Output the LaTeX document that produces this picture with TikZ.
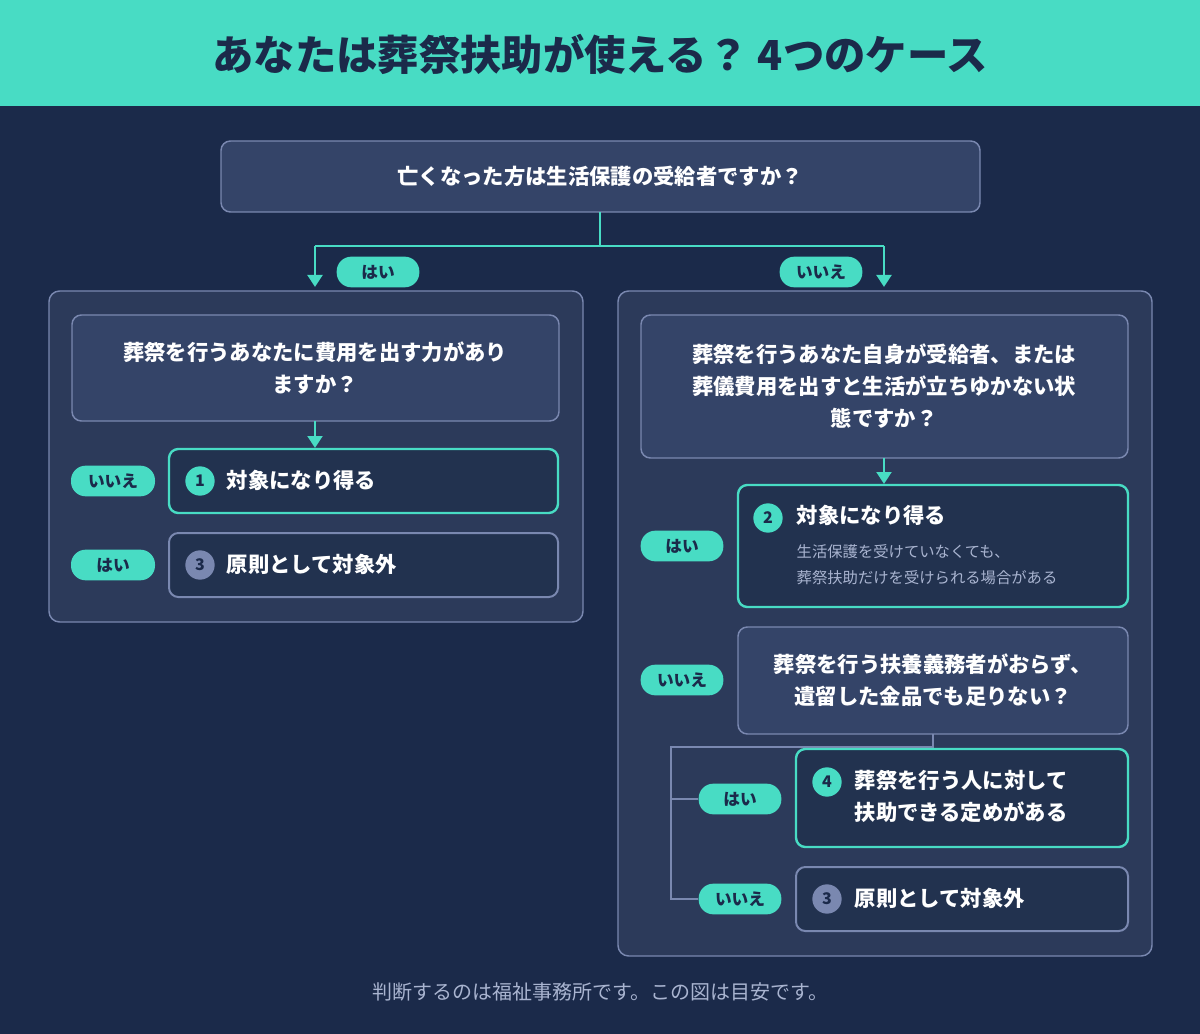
\documentclass[tikz,border=0pt]{standalone}
\usepackage{fontspec}
\setmainfont{Noto Sans CJK JP}
\usetikzlibrary{arrows.meta}
\definecolor{bg}{HTML}{1B2A4A}
\definecolor{teal}{HTML}{48DCC4}
\definecolor{qfill}{HTML}{344468}
\definecolor{pfill}{HTML}{2C3A5A}
\definecolor{rfill}{HTML}{22324F}
\definecolor{gborder}{HTML}{7A88B0}
\definecolor{subt}{HTML}{A9B4D0}
\begin{document}
\begin{tikzpicture}[x=0.75pt,y=-0.75pt,
 panel/.style={draw=gborder,line width=1.1pt,fill=pfill,rounded corners=8pt},
 qbox/.style={draw=gborder,line width=1.1pt,fill=qfill,rounded corners=7pt},
 rbox/.style={draw=teal,line width=1.8pt,fill=rfill,rounded corners=7pt},
 gbox/.style={draw=gborder,line width=1.5pt,fill=rfill,rounded corners=7pt},
 qtxt/.style={text=white,font=\bfseries\fontsize{16}{24}\selectfont,align=center},
 rtxt/.style={text=white,font=\bfseries\fontsize{16}{24}\selectfont,anchor=west,align=left},
 pill/.style={fill=teal,rounded corners=11pt,minimum height=23pt,text=bg,font=\bfseries\fontsize{12.5}{14}\selectfont,inner xsep=4pt},
 num/.style={circle,fill=teal,minimum size=22pt,inner sep=0pt,text=bg,font=\bfseries\fontsize{12}{14}\selectfont},
 gnum/.style={num,fill=gborder},
 flow/.style={draw=teal,line width=2.2pt},
 arr/.style={flow,-{Triangle[length=9pt,width=11pt]}},
 tree/.style={draw=gborder,line width=1.3pt}]
\useasboundingbox (0,0) rectangle (1200,1034);
\fill[bg] (0,0) rectangle (1200,1034);
\fill[teal] (0,0) rectangle (1200,106);
\node[text=bg,font=\bfseries\fontsize{31}{36}\selectfont] (title) at (600,54) {あなたは葬祭扶助が使える？ 4つのケース};
% top question
\draw[qbox] (221,141) rectangle (980,212);
\node[qtxt] (q0) at (600,176) {亡くなった方は生活保護の受給者ですか？};
\coordinate (q0b) at (600,212);
\coordinate (jn) at (600,246);
\coordinate (jl) at (315,246);
\coordinate (jr) at (884,246);
\coordinate (al) at (315,287);
\coordinate (ar) at (884,287);
\draw[flow] (q0b) -- (jn) (jl) -- (jr);
\draw[arr] (jl) -- (al);
\draw[arr] (jr) -- (ar);
\node[pill,minimum width=62pt] (p1) at (378,272) {はい};
\node[pill,minimum width=62pt] (p2) at (821,272) {いいえ};
% panels
\draw[panel] (49,291) rectangle (583,622);
\draw[panel] (618,291) rectangle (1152,956);
% left
\draw[qbox] (72,315) rectangle (559,421);
\node[qtxt] (q1) at (315,368) {葬祭を行うあなたに費用を出す力があり\\ますか？};
\coordinate (q1b) at (315,421);
\coordinate (r1t) at (315,448);
\draw[arr] (q1b) -- (r1t);
\draw[rbox] (169,449) rectangle (558,513);
\node[num] (n1) at (200,481) {1};
\node[rtxt] (t1) at (222,480) {対象になり得る};
\node[pill,minimum width=63pt] (p3) at (113,481) {いいえ};
\draw[gbox] (169,533) rectangle (558,597);
\node[gnum] (n3) at (200,565) {3};
\node[rtxt] (t3) at (222,564) {原則として対象外};
\node[pill,minimum width=63pt] (p4) at (113,565) {はい};
% right
\draw[qbox] (641,315) rectangle (1128,458);
\node[qtxt] (q2) at (884,386) {葬祭を行うあなた自身が受給者、または\\葬儀費用を出すと生活が立ちゆかない状\\態ですか？};
\coordinate (q2b) at (884,458);
\coordinate (r2t) at (884,484);
\draw[arr] (q2b) -- (r2t);
\draw[rbox] (738,485) rectangle (1128,607);
\node[num] (n2) at (768,518) {2};
\node[rtxt] (t2) at (792,515) {対象になり得る};
\node[anchor=west,align=left,text=subt,font=\fontsize{11.5}{19.5}\selectfont] (s2) at (792,565) {生活保護を受けていなくても、\\葬祭扶助だけを受けられる場合がある};
\node[pill,minimum width=62pt] (p5) at (682,546) {はい};
\draw[qbox] (738,627) rectangle (1128,734);
\node[qtxt] (q3) at (933,680) {葬祭を行う扶養義務者がおらず、\\遺留した金品でも足りない？};
\node[pill,minimum width=62pt] (p6) at (682,680) {いいえ};
\coordinate (q3b) at (933,734);
\coordinate (tj) at (933,747);
\coordinate (tl) at (671,747);
\coordinate (tm) at (671,799);
\coordinate (tb) at (671,899);
\node[pill,minimum width=62pt] (p7) at (740,799) {はい};
\node[pill,minimum width=62pt] (p8) at (740,899) {いいえ};
\draw[tree] (q3b) -- (tj) -- (tl) -- (tb) -- (p8.west);
\draw[tree] (tm) -- (p7.west);
\draw[rbox] (796,749) rectangle (1128,847);
\node[num] (n4) at (827,782) {4};
\node[rtxt] (t4) at (850,796) {葬祭を行う人に対して\\扶助できる定めがある};
\draw[gbox] (796,867) rectangle (1128,931);
\node[gnum] (n5) at (827,899) {3};
\node[rtxt] (t5) at (850,898) {原則として対象外};
\node[text=subt,font=\fontsize{15}{18}\selectfont] (foot) at (600,992) {判断するのは福祉事務所です。この図は目安です。};
\end{tikzpicture}
\end{document}
